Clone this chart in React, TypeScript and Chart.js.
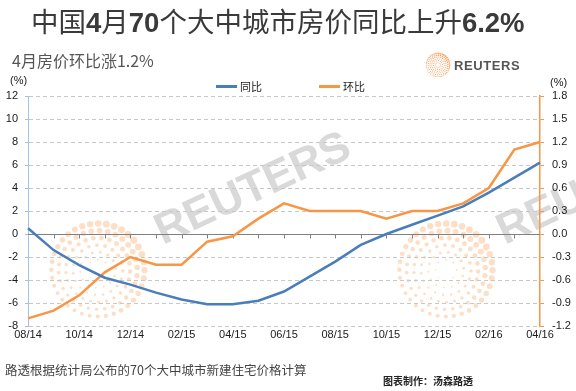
import React, { useEffect, useRef } from 'react';
import { Chart, registerables } from 'chart.js';

Chart.register(...registerables);

const months = ['08/14', '09/14', '10/14', '11/14', '12/14', '01/15', '02/15', '03/15', '04/15', '05/15', '06/15', '07/15', '08/15', '09/15', '10/15', '11/15', '12/15', '01/16', '02/16', '03/16', '04/16'];
const yoyValues = [0.5, -1.4, -2.7, -3.8, -4.4, -5.1, -5.7, -6.1, -6.1, -5.8, -5.0, -3.7, -2.4, -0.95, 0.0, 0.8, 1.6, 2.4, 3.6, 4.9, 6.2];
const momValues = [-1.1, -1.0, -0.8, -0.5, -0.3, -0.4, -0.4, -0.1, -0.03, 0.2, 0.4, 0.3, 0.3, 0.3, 0.2, 0.3, 0.3, 0.4, 0.6, 1.1, 1.2];
const leftAxis = { min: -8, max: 12, step: 2 };
const rightAxis = { min: -1.2, max: 1.8, step: 0.3 };
const seriesNames = ['同比', '环比'];

const BLUE = '#4a7ebb';
const ORANGE = '#f79646';
const FONT = '"Liberation Sans", Arial, sans-serif';
const CJK = '"Noto Sans CJK SC", "Liberation Sans", sans-serif';

function drawDots(ctx: CanvasRenderingContext2D, cx: number, cy: number, R: number, color: string) {
  ctx.save();
  ctx.fillStyle = color;
  for (let i = 0; i < 6; i++) {
    const r = R * (0.22 + 0.15 * i);
    const n = Math.max(7, Math.round((2 * Math.PI * r) / (R * 0.17)));
    for (let j = 0; j < n; j++) {
      const a = (2 * Math.PI * j) / n + i * 0.35;
      const mod = 0.55 + 0.45 * (0.5 - 0.5 * Math.sin(a - 0.6));
      const s = R * 0.022 * (1 + i * 0.45) * mod;
      ctx.beginPath();
      ctx.arc(cx + r * Math.cos(a), cy + r * Math.sin(a), Math.max(0.5, s), 0, Math.PI * 2);
      ctx.fill();
    }
  }
  ctx.restore();
}

const decorPlugin = {
  id: 'decor',
  beforeDraw(chart: any) {
    const ctx = chart.ctx as CanvasRenderingContext2D;
    ctx.save();
    ctx.fillStyle = '#d9d9d9';
    ctx.font = `bold 44px ${FONT}`;
    ctx.textBaseline = 'alphabetic';
    [163, 505].forEach((x) => {
      ctx.save();
      ctx.translate(x, 245);
      ctx.rotate((-25 * Math.PI) / 180);
      ctx.fillText('REUTERS', 0, 0);
      ctx.restore();
    });
    ctx.restore();
    drawDots(ctx, 98, 270, 48, 'rgba(246,170,105,0.38)');
    drawDots(ctx, 446, 270, 48, 'rgba(246,170,105,0.38)');
    drawDots(ctx, 438, 65, 12, 'rgba(240,140,60,0.9)');
  },
  beforeDatasetsDraw(chart: any) {
    const ctx = chart.ctx as CanvasRenderingContext2D;
    const { left, right } = chart.chartArea;
    const y0 = Math.round(chart.scales.y.getPixelForValue(0)) + 0.5;
    ctx.save();
    ctx.strokeStyle = '#808080';
    ctx.lineWidth = 1;
    ctx.beginPath();
    ctx.moveTo(left, y0);
    ctx.lineTo(right, y0);
    for (let i = 1; i < months.length - 1; i++) {
      const x = Math.round(chart.scales.x.getPixelForValue(i)) + 0.5;
      ctx.moveTo(x, y0);
      ctx.lineTo(x, y0 + 4);
    }
    ctx.stroke();
    ctx.restore();
  },
};

function ChartCanvas() {
  const ref = useRef<HTMLCanvasElement>(null);
  useEffect(() => {
    if (!ref.current) return;
    const chart = new Chart(ref.current, {
      type: 'line',
      data: {
        labels: months,
        datasets: [
          { label: seriesNames[0], data: yoyValues, borderColor: BLUE, backgroundColor: BLUE, borderWidth: 2.5, pointRadius: 0, tension: 0, yAxisID: 'y' },
          { label: seriesNames[1], data: momValues, borderColor: ORANGE, backgroundColor: ORANGE, borderWidth: 2.5, pointRadius: 0, tension: 0, yAxisID: 'y1' },
        ],
      },
      options: {
        responsive: false,
        animation: false,
        devicePixelRatio: 1,
        layout: { padding: { top: 96, bottom: 45, left: 0, right: 0 } },
        plugins: { legend: { display: false }, tooltip: { enabled: false }, title: { display: false } },
        scales: {
          x: {
            grid: { display: false, drawTicks: false },
            border: { display: false },
            ticks: {
              autoSkip: false,
              maxRotation: 0,
              minRotation: 0,
              padding: 2,
              color: '#1a1a1a',
              font: { family: FONT, size: 11 },
              callback: (_v: any, i: number) => (i % 2 === 0 ? months[i] : ''),
            },
            afterFit: (s: any) => { s.height = 20; },
          },
          y: {
            position: 'left',
            min: leftAxis.min,
            max: leftAxis.max,
            grid: { color: '#c8c8c8', tickColor: '#9dc3e6', tickLength: 3, lineWidth: 1 },
            border: { display: true, color: '#9dc3e6', width: 1, dash: [4, 3] },
            ticks: { stepSize: leftAxis.step, padding: 7, color: '#1a1a1a', font: { family: FONT, size: 11 } },
            afterFit: (s: any) => { s.width = 28; },
          },
          y1: {
            position: 'right',
            min: rightAxis.min,
            max: rightAxis.max,
            grid: { drawOnChartArea: false, tickColor: ORANGE, tickLength: 4 },
            border: { display: true, color: ORANGE, width: 1.5 },
            ticks: {
              stepSize: rightAxis.step,
              padding: 8,
              color: '#1a1a1a',
              font: { family: FONT, size: 11 },
              callback: (v: any) => (Math.abs(Number(v)) < 1e-9 ? '0.0' : Number(v).toFixed(1)),
            },
            afterFit: (s: any) => { s.width = 36; },
          },
        },
      },
      plugins: [decorPlugin],
    } as any);
    return () => chart.destroy();
  }, []);
  return <canvas ref={ref} width={576} height={391} style={{ position: 'absolute', left: 0, top: 0, width: 576, height: 391 }} />;
}

const abs = (o: React.CSSProperties): React.CSSProperties => ({ position: 'absolute', whiteSpace: 'nowrap', ...o });
const bold: React.CSSProperties = { fontFamily: FONT, fontWeight: 'bold' };

export default function App() {
  return (
    <div style={{ position: 'fixed', left: 0, top: 0, width: 576, height: 391, background: '#fff', overflow: 'hidden' }}>
      <ChartCanvas />
      <div style={abs({ left: 31, top: 6, fontSize: 27.5, lineHeight: '28px', color: '#3a3a3a', fontFamily: CJK })}>
        中国<span style={bold}>4</span>月<span style={bold}>70</span>个大中城市房价同比上升<span style={bold}>6.2%</span>
      </div>
      <div style={abs({ left: 12, top: 52, fontSize: 16, lineHeight: '16px', color: '#555', fontFamily: CJK })}>4月房价环比涨1.2%</div>
      <div style={abs({ left: 454, top: 58, fontSize: 13, lineHeight: '16px', letterSpacing: '0.6px', color: '#555', fontFamily: FONT, fontWeight: 'bold' })}>REUTERS</div>
      <div style={abs({ left: 10, top: 73, fontSize: 11, lineHeight: '14px', color: '#1a1a1a', fontFamily: FONT })}>(%)</div>
      <div style={abs({ left: 550, top: 75, fontSize: 11, lineHeight: '14px', color: '#1a1a1a', fontFamily: FONT })}>(%)</div>
      <div style={abs({ left: 216, top: 85, width: 21, height: 3, background: BLUE })} />
      <div style={abs({ left: 240, top: 79, fontSize: 11, lineHeight: '14px', color: '#1a1a1a', fontFamily: CJK })}>{seriesNames[0]}</div>
      <div style={abs({ left: 319, top: 85, width: 21, height: 3, background: ORANGE })} />
      <div style={abs({ left: 343, top: 79, fontSize: 11, lineHeight: '14px', color: '#1a1a1a', fontFamily: CJK })}>{seriesNames[1]}</div>
      <div style={abs({ left: 5, top: 362, fontSize: 12.5, lineHeight: '15px', color: '#444', fontFamily: CJK })}>路透根据统计局公布的70个大中城市新建住宅价格计算</div>
      <div style={abs({ left: 383, top: 374, fontSize: 10, lineHeight: '13px', color: '#222', fontFamily: CJK, fontWeight: 'bold' })}>图表制作：汤森路透</div>
    </div>
  );
}
